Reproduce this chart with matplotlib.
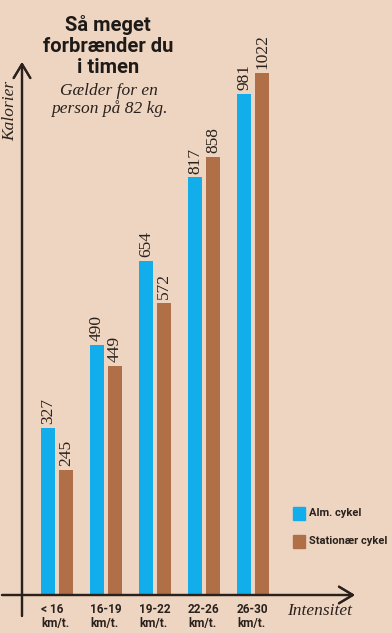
import numpy as np
import matplotlib.pyplot as plt
from matplotlib.patches import Rectangle

# data
categories = ['< 16\nkm/t.', '16-19\nkm/t.', '19-22\nkm/t.', '22-26\nkm/t.', '26-30\nkm/t.']
alm = [327, 490, 654, 817, 981]
stationaer = [245, 449, 572, 858, 1022]
series_names = ['Alm. cykel', 'Stationær cykel']

bg = '#eed5c1'
blue = '#12aeec'
brown = '#b06f47'
ink = '#2a211c'
W, H = 392, 633

sans = ['Roboto', 'DejaVu Sans']
serif = ['Liberation Serif', 'DejaVu Serif']

def fx(x):
    return x / W

def fy(y):
    return 1 - y / H

fig = plt.figure(figsize=(W / 100, H / 100), dpi=100, facecolor=bg)
ax = fig.add_axes([fx(22), fy(595), fx(355) - fx(22), fy(63) - fy(595)])
ax.set_facecolor('none')

x = np.arange(len(categories))
bw = 0.286
off = 0.184
ax.bar(x - off, alm, bw, color=blue)
ax.bar(x + off, stationaer, bw, color=brown)

for xs, vals in [(x - off, alm), (x + off, stationaer)]:
    for xi, v in zip(xs, vals):
        ax.annotate(str(v), (xi, v), xytext=(0, 2.5), textcoords='offset points',
                    rotation=90, ha='center', va='bottom', fontsize=12.5,
                    family=serif, color=ink)

ax.set_xlim(-0.714, 6.08)
ax.set_ylim(0, 1041)
ax.set_xticks(x - off - bw / 2)
ax.set_xticklabels(categories, ha='left', family=sans, fontweight='bold',
                   fontsize=8.5, color=ink, linespacing=1.05)
ax.tick_params(axis='x', length=0, pad=6)
ax.set_yticks([])
for s in ax.spines.values():
    s.set_visible(False)

# axis arrows
arrow = dict(arrowstyle='->,head_length=0.5,head_width=0.3', color=ink, lw=1.6,
             mutation_scale=20, shrinkA=0, shrinkB=0)
fig.add_artist(plt.annotate('', xy=(fx(355), fy(595)), xytext=(fx(2), fy(595)),
                            xycoords='figure fraction', arrowprops=arrow))
fig.add_artist(plt.annotate('', xy=(fx(22), fy(62)), xytext=(fx(22), fy(616)),
                            xycoords='figure fraction', arrowprops=arrow))

fig.text(fx(10), fy(111), 'Kalorier', rotation=90, ha='center', va='center',
         family=serif, style='italic', fontsize=12.5, color=ink)
fig.text(fx(320), fy(611), 'Intensitet', ha='center', va='center',
         family=serif, style='italic', fontsize=12.5, color=ink)

# title
fig.text(fx(108), fy(46), 'Så meget\nforbrænder du\ni timen', ha='center', va='center',
         family=sans, fontweight='bold', fontsize=14.5, color='#1e1a18', linespacing=1.12)
fig.text(fx(109), fy(100), 'Gælder for en\nperson på 82 kg.', ha='center', va='center',
         family=serif, style='italic', fontsize=12.5, color=ink, linespacing=1.1)

# legend
for (yc, col, name) in [(513, blue, series_names[0]), (541, brown, series_names[1])]:
    fig.patches.append(Rectangle((fx(293), fy(yc + 6.5)), fx(12), fy(0) - fy(13),
                                 transform=fig.transFigure, color=col))
    fig.text(fx(309), fy(yc), name, ha='left', va='center', family=sans,
             fontweight='bold', fontsize=8, color=ink)

fig.savefig('out.png', dpi=100, facecolor=bg)
